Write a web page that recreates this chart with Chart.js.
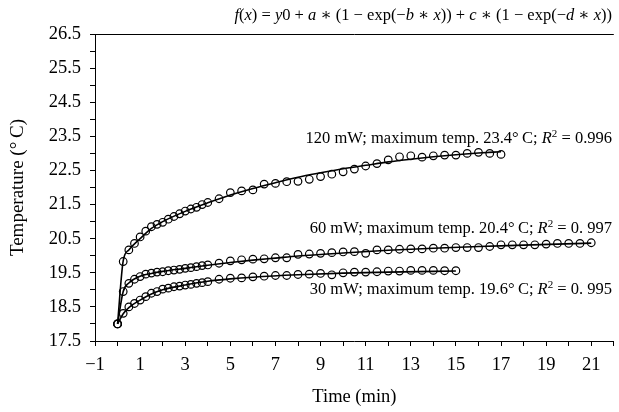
<!DOCTYPE html>
<html>
<head>
<meta charset="utf-8">
<script src="https://cdn.jsdelivr.net/npm/chart.js@4.4.1/dist/chart.umd.min.js"></script>
<style>
  html, body { margin: 0; padding: 0; background: #fff; }
  #wrap { width: 619px; height: 412px; }
</style>
</head>
<body>
<div id="wrap"><canvas id="tempChart" width="619" height="412"></canvas></div>
<script>
// Measurement times (min)
const timeMin = [
  0, 0.25, 0.5, 0.75, 1, 1.25, 1.5, 1.75, 2, 2.25, 2.5, 2.75, 3, 3.25, 3.5, 3.75, 4,
  4.5, 5, 5.5, 6, 6.5, 7, 7.5, 8, 8.5, 9, 9.5, 10, 10.5, 11, 11.5, 12, 12.5, 13,
  13.5, 14, 14.5, 15, 15.5, 16, 16.5, 17, 17.5, 18, 18.5, 19, 19.5, 20, 20.5, 21
];

// Measured temperatures (°C)
const temp120mW = [
  18.0, 19.83, 20.17, 20.36, 20.55, 20.72, 20.85, 20.92, 20.98, 21.07, 21.15, 21.23, 21.31, 21.37, 21.42, 21.5, 21.56,
  21.67, 21.85, 21.9, 21.93, 22.1, 22.12, 22.17, 22.18, 22.24, 22.32, 22.39, 22.46, 22.54, 22.63, 22.7, 22.81, 22.9, 22.93,
  22.89, 22.93, 22.95, 22.95, 23.0, 23.03, 23.0, 22.97
];
const temp60mW = [
  18.0, 18.95, 19.19, 19.31, 19.39, 19.46, 19.49, 19.52, 19.53, 19.56, 19.58, 19.6, 19.63, 19.65, 19.68, 19.71, 19.73,
  19.78, 19.85, 19.88, 19.9, 19.91, 19.94, 19.94, 20.04, 20.05, 20.07, 20.09, 20.11, 20.12, 20.07, 20.17, 20.17, 20.19, 20.2,
  20.2, 20.22, 20.22, 20.24, 20.24, 20.24, 20.27, 20.32, 20.32, 20.32, 20.32, 20.34, 20.36, 20.36, 20.36, 20.38
];
const temp30mW = [
  18.0, 18.31, 18.5, 18.6, 18.7, 18.8, 18.9, 18.95, 19.02, 19.05, 19.09, 19.11, 19.14, 19.16, 19.19, 19.21, 19.24,
  19.31, 19.34, 19.35, 19.38, 19.4, 19.42, 19.42, 19.45, 19.46, 19.48, 19.44, 19.5, 19.52, 19.52, 19.53, 19.55, 19.55, 19.57,
  19.57, 19.57, 19.56, 19.56
];

// Fitted curves
const fitTime120 = [0, 0.25, 0.5, 1, 1.5, 2, 3, 4, 5, 6, 7, 8, 9, 10, 11, 12, 13, 14, 15, 16, 17];
const fit120mW = [18.0, 19.85, 20.17, 20.5, 20.8, 21.0, 21.3, 21.55, 21.78, 21.97, 22.14, 22.3, 22.43, 22.55, 22.65, 22.75, 22.83, 22.9, 22.96, 23.01, 23.05];
const fitTime60 = [0, 0.25, 0.5, 1, 1.5, 2, 3, 4, 5, 6, 7, 8, 10, 12, 14, 16, 18, 21];
const fit60mW = [18.0, 18.95, 19.2, 19.4, 19.48, 19.54, 19.63, 19.72, 19.8, 19.87, 19.93, 19.99, 20.08, 20.16, 20.22, 20.27, 20.31, 20.37];
const fitTime30 = [0, 0.25, 0.5, 1, 1.5, 2, 3, 4, 5, 6, 8, 10, 12, 15];
const fit30mW = [18.0, 18.3, 18.48, 18.7, 18.88, 19.0, 19.14, 19.25, 19.32, 19.37, 19.44, 19.49, 19.52, 19.55];

// Labels
const seriesNotes = [
  { head: "120 mW; maximum temp. 23.4°\u2009C; ", tail: " = 0.996" },
  { head: "60 mW; maximum temp. 20.4°\u2009C; ", tail: " = 0. 997" },
  { head: "30 mW; maximum temp. 19.6°\u2009C; ", tail: " = 0. 995" }
];
const noteAnchorY = [23.3, 20.67, 18.88]; // baseline, in °C units

const SERIF = "'Liberation Serif', 'DejaVu Serif', serif";

function toXY(xs, ys) {
  return ys.map((y, i) => ({ x: xs[i], y: y }));
}

function pointSet(values) {
  return {
    data: toXY(timeMin, values),
    showLine: false,
    pointStyle: "circle",
    pointRadius: 3.8,
    pointBorderWidth: 1.2,
    pointBorderColor: "#000",
    pointBackgroundColor: "rgba(0,0,0,0)",
  };
}

function fitSet(xs, values) {
  return {
    data: toXY(xs, values),
    showLine: true,
    borderColor: "#000",
    borderWidth: 1.6,
    pointRadius: 0,
    cubicInterpolationMode: "monotone",
  };
}

// draw a run of text pieces, right aligned at x
function drawPieces(ctx, pieces, xRight, baseline) {
  let total = 0;
  pieces.forEach((p) => {
    ctx.font = p.font;
    total += ctx.measureText(p.text).width;
  });
  let x = xRight - total;
  pieces.forEach((p) => {
    ctx.font = p.font;
    ctx.fillText(p.text, x, baseline + (p.dy || 0));
    x += ctx.measureText(p.text).width;
  });
}

const textPlugin = {
  id: "textPlugin",
  afterDraw(chart) {
    const { ctx, chartArea, scales } = chart;
    ctx.save();

    // top frame line
    ctx.strokeStyle = "#000";
    ctx.lineWidth = 1;
    ctx.beginPath();
    ctx.moveTo(chartArea.left, chartArea.top + 0.5);
    ctx.lineTo(chartArea.right, chartArea.top + 0.5);
    ctx.stroke();

    ctx.fillStyle = "#000";
    ctx.textBaseline = "alphabetic";

    // formula title
    const up = "16.5px " + SERIF;
    const it = "italic 16.5px " + SERIF;
    const formula = [
      ["f", it], ["(", up], ["x", it], [") = ", up], ["y", it], ["0 + ", up],
      ["a", it], [" \u2217 (1 \u2212 exp(\u2212", up], ["b", it], [" \u2217 ", up],
      ["x", it], [")) + ", up], ["c", it], [" \u2217 (1 \u2212 exp(\u2212", up],
      ["d", it], [" \u2217 ", up], ["x", it], ["))", up]
    ].map((p) => ({ text: p[0], font: p[1] }));
    drawPieces(ctx, formula, 612, 20);

    // series notes
    const nUp = "16.5px " + SERIF;
    const nIt = "italic 16.5px " + SERIF;
    const nSup = "11px " + SERIF;
    seriesNotes.forEach((n, i) => {
      const y = scales.y.getPixelForValue(noteAnchorY[i]);
      drawPieces(ctx, [
        { text: n.head, font: nUp },
        { text: "R", font: nIt },
        { text: "2", font: nSup, dy: -6 },
        { text: n.tail, font: nUp }
      ], 612, y);
    });
    ctx.restore();
  }
};

const ctx = document.getElementById("tempChart").getContext("2d");

new Chart(ctx, {
  type: "scatter",
  data: {
    datasets: [
      fitSet(fitTime120, fit120mW),
      fitSet(fitTime60, fit60mW),
      fitSet(fitTime30, fit30mW),
      pointSet(temp120mW),
      pointSet(temp60mW),
      pointSet(temp30mW),
    ],
  },
  options: {
    responsive: false,
    animation: false,
    layout: { padding: { top: 34, right: 0, left: 0, bottom: 0 } },
    plugins: {
      legend: { display: false },
      tooltip: { enabled: false },
    },
    scales: {
      x: {
        type: "linear",
        min: -1,
        max: 22,
        afterFit: (scale) => {
          scale.height = 71;
          scale.paddingLeft = 0;
          scale.paddingRight = 0;
        },
        border: { color: "#000", width: 1 },
        grid: { drawOnChartArea: false, drawTicks: true, tickLength: 5, color: "#000" },
        ticks: {
          stepSize: 1,
          autoSkip: false,
          maxRotation: 0,
          padding: 8,
          color: "#000",
          font: { family: SERIF, size: 18.5 },
          callback: (v) => (Math.abs(v % 2) === 1 && v <= 21 ? String(v).replace("-", "\u2212") : ""),
        },
        title: {
          display: true,
          text: "Time (min)",
          color: "#000",
          font: { family: SERIF, size: 18.5 },
          padding: { top: 0, bottom: 4 },
        },
      },
      y: {
        min: 17.5,
        max: 26.5,
        afterFit: (scale) => {
          scale.width = 95;
        },
        border: { color: "#000", width: 1 },
        grid: { drawOnChartArea: false, drawTicks: true, tickLength: 5, color: "#000" },
        ticks: {
          stepSize: 0.5,
          autoSkip: false,
          padding: 9,
          color: "#000",
          font: { family: SERIF, size: 18.5 },
          callback: (v) => (Math.round((v - 17.5) * 2) % 2 === 0 ? v.toFixed(1) : ""),
        },
        title: {
          display: true,
          text: "Temperature (°\u2009C)",
          color: "#000",
          font: { family: SERIF, size: 19 },
          padding: { top: 7, bottom: 0 },
        },
      },
    },
  },
  plugins: [textPlugin],
});
</script>
</body>
</html>
